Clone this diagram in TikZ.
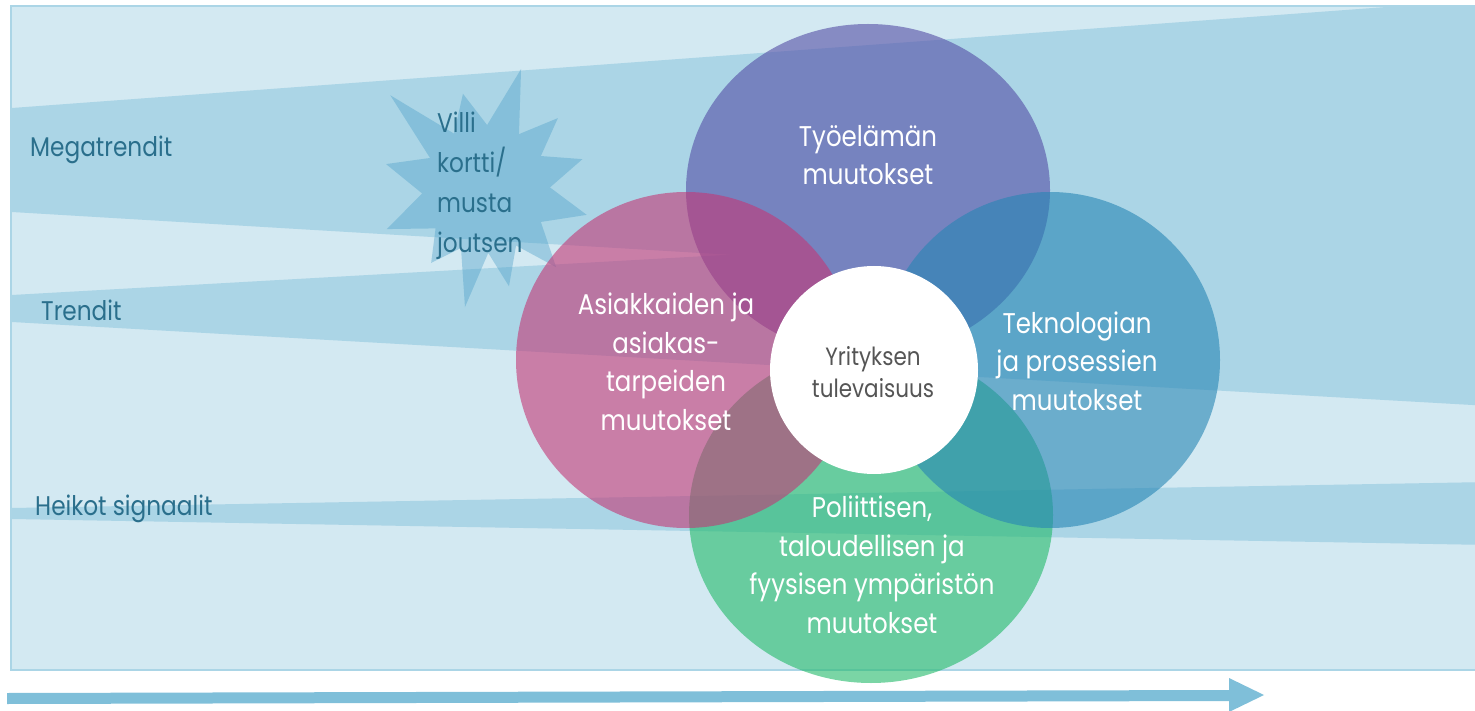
\documentclass[tikz,border=0pt]{standalone}
\usepackage{fontspec}
\setmainfont{Poppins}[FakeStretch=0.86]
\usetikzlibrary{positioning}
\definecolor{bgblue}{HTML}{D3E9F2}
\definecolor{bandblue}{HTML}{ABD5E6}
\definecolor{labelteal}{HTML}{2A6F8C}
\definecolor{starblue}{HTML}{4CA0C8}
\definecolor{arrowblue}{HTML}{7FBFD9}
\definecolor{workpurple}{HTML}{534DA5}
\definecolor{clientpink}{HTML}{C33776}
\definecolor{techblue}{HTML}{2685B4}
\definecolor{envgreen}{HTML}{21B969}
\definecolor{coregray}{HTML}{555555}

\begin{document}
\begin{tikzpicture}[
x=1pt, y=-1pt,
band/.style={fill=bandblue},
area/.style={fill opacity=0.6},
trendlabel/.style={text=labelteal, inner sep=0pt, anchor=base west,
  font=\fontsize{27}{40}\selectfont},
arealabel/.style={text=white, inner sep=0pt, anchor=base, align=center,
  font=\fontsize{28.5}{38.5}\selectfont}]
\useasboundingbox (0,0) rectangle (1475,711);
\fill[bgblue] (11,6) rectangle (1490,670);
\begin{scope}
\clip (12,6) rectangle (1490,669);
% bands
\fill[band] (12,108) -- (1400,6) -- (1490,6) -- (1490,300) -- (12,212) -- cycle;
\fill[band] (12,295) -- (1490,212) -- (1490,406) -- (12,322) -- cycle;
\fill[band] (12,508) -- (1490,482) -- (1490,545) -- (12,519) -- cycle;
\end{scope}
\draw[bandblue, line width=2.5pt] (1490,6) -- (11,6) -- (11,670) -- (1490,670);
% wild card
\begin{scope}[shift={(486,189)}]
\fill[starblue, fill opacity=0.4] (-73.7:125) -- (-59:64) -- (-44.6:101)
  -- (-31:64) -- (-17.2:101) -- (-1.4:64) -- (14.4:104) -- (31:64)
  -- (48.1:105) -- (62:64) -- (76.7:100) -- (88:64) -- (100.1:120)
  -- (113:64) -- (126.6:92) -- (142:64) -- (158:107) -- (176:64)
  -- (194:103) -- (209:64) -- (224.4:134) -- (240:64) -- (256.4:98)
  -- (271:64) -- cycle;
\end{scope}
% change areas
\fill[workpurple, area] (868,190) ellipse [x radius=182, y radius=166];
\fill[envgreen, area] (871,515) ellipse [x radius=182, y radius=168];
\fill[clientpink, area] (686,360) ellipse [x radius=170, y radius=168];
\fill[techblue, area] (1050,360) ellipse [x radius=170, y radius=168];
\fill[white] (874,370) circle [radius=104];

\node[trendlabel] (mega) at (30,157) {Megatrendit};
\node[trendlabel] (trend) at (41,320) {Trendit};
\node[trendlabel] (weak) at (35,515) {Heikot signaalit};
\node[trendlabel, align=left] (wild) at (437,253) {Villi\\kortti/\\musta\\joutsen};

\node[arealabel] (work) at (868,185) {Työelämän\\muutokset};
\node[arealabel] (client) at (666,430) {Asiakkaiden ja\\asiakas-\\tarpeiden\\muutokset};
\node[arealabel] (tech) at (1077,410) {Teknologian\\ja prosessien\\muutokset};
\node[arealabel] (env) at (872,633) {Poliittisen,\\taloudellisen ja\\fyysisen ympäristön\\muutokset};
\node[arealabel, text=coregray, font=\fontsize{25}{32}\selectfont] (core) at (873,397) {Yrityksen\\tulevaisuus};

\fill[arrowblue] (7,693) -- (1229,690) -- (1229,678) -- (1264,695) -- (1229,712)
  -- (1229,701) -- (7,704) -- cycle;
\end{tikzpicture}
\end{document}
